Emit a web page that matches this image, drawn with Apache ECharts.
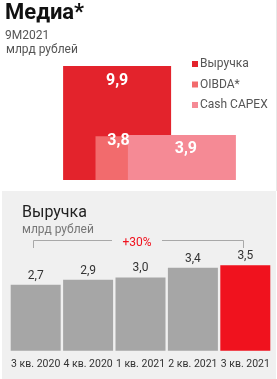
<!DOCTYPE html>
<html>
<head>
<meta charset="utf-8">
<script src="https://cdn.jsdelivr.net/npm/echarts@6/dist/echarts.min.js"></script>
<style>
  html, body { margin: 0; padding: 0; background: #fff; }
  #chart { width: 277px; height: 379px; }
</style>
</head>
<body>
<div id="chart"></div>
<script>
// 9M2021, млрд рублей
var summaryNames = ["Выручка", "OIBDA*", "Cash CAPEX"];
var summaryValues = [9.9, 3.8, 3.9];
var summaryColors = ["#e3232c", "#f26b6d", "#f58a95"];

// квартальная выручка
var quarters = ["3 кв. 2020", "4 кв. 2020", "1 кв. 2021", "2 кв. 2021", "3 кв. 2021"];
var revenue = [2.7, 2.9, 3.0, 3.4, 3.5];
var growthText = "+30%";

var fontFamily = "Roboto, 'Noto Sans', sans-serif";

function comma(v) {
  return Number(v).toFixed(1).replace(".", ",");
}

// подписи внутри прямоугольников
var summaryLabels = [
  { position: "insideTop", distance: 7, offset: [0, 0] },
  { position: "insideTop", distance: 0, offset: [-31, -3] },
  { position: "insideTop", distance: 6, offset: [4, 0] },
];

var summarySeries = summaryNames.map(function (name, i) {
  return {
    name: name,
    type: "bar",
    xAxisIndex: 0,
    yAxisIndex: 0,
    barWidth: 108,
    barGap: "-70%",
    silent: true,
    itemStyle: { color: summaryColors[i] },
    label: {
      show: true,
      position: summaryLabels[i].position,
      distance: summaryLabels[i].distance,
      offset: summaryLabels[i].offset,
      color: "#fff",
      fontSize: 16,
      fontWeight: "bold",
      fontFamily: fontFamily,
      formatter: function (p) { return comma(p.value); },
    },
    data: [summaryValues[i]],
  };
});

var chart = echarts.init(document.getElementById("chart"), null, { renderer: "canvas" });

var options = {
  animation: false,
  backgroundColor: "#ffffff",
  textStyle: { fontFamily: fontFamily },
  graphic: [
    // серая подложка нижнего блока
    { type: "rect", z: -10, shape: { x: 2, y: 191, width: 274, height: 188 }, style: { fill: "#f0f0f0" } },
    { type: "line", z: -10, shape: { x1: 276.5, y1: 0, x2: 276.5, y2: 191 }, style: { stroke: "#e8e8e8", lineWidth: 1 } },
    // заголовки
    { type: "text", left: 5, top: 2, style: { text: "Медиа*", fill: "#111", font: "bold 22px " + fontFamily } },
    { type: "text", left: 5, top: 30, style: { text: "9M2021", fill: "#555", font: "12px " + fontFamily } },
    { type: "text", left: 6, top: 44, style: { text: "млрд рублей", fill: "#555", font: "12px " + fontFamily } },
    { type: "text", left: 22, top: 205, style: { text: "Выручка", fill: "#222", font: "16px " + fontFamily } },
    { type: "text", left: 22, top: 224, style: { text: "млрд рублей", fill: "#777", font: "12px " + fontFamily } },
    // скобка +30%
    { type: "polyline", shape: { points: [[33.5, 248], [33.5, 240.5], [112, 240.5]] }, style: { stroke: "#a8a8a8", lineWidth: 1, fill: null } },
    { type: "polyline", shape: { points: [[162, 240.5], [243.5, 240.5], [243.5, 248]] }, style: { stroke: "#a8a8a8", lineWidth: 1, fill: null } },
    { type: "text", x: 137, y: 242.5, style: { text: growthText, fill: "#f0121e", font: "12px " + fontFamily, textAlign: "center", textVerticalAlign: "middle" } },
  ],
  legend: {
    orient: "vertical",
    left: 192,
    top: 57,
    padding: 0,
    itemWidth: 6,
    itemHeight: 6,
    itemGap: 6.5,
    icon: "rect",
    selectedMode: false,
    textStyle: { color: "#555", fontSize: 12, lineHeight: 14, fontFamily: fontFamily, padding: [0, 0, 0, -3] },
    data: summaryNames,
  },
  grid: [
    { left: 63, top: 64.85, width: 173, height: 115.15 },
    { left: 9.5, top: 253, width: 262, height: 97.7 },
  ],
  xAxis: [
    { gridIndex: 0, type: "category", data: [""], show: false },
    {
      gridIndex: 1,
      type: "category",
      data: quarters,
      axisLine: { show: false },
      axisTick: { show: false },
      axisLabel: { color: "#333", fontSize: 10.5, margin: 8, interval: 0, fontFamily: fontFamily },
    },
  ],
  yAxis: [
    { gridIndex: 0, type: "value", min: 0, max: 10, show: false },
    { gridIndex: 1, type: "value", min: 0, max: 4, show: false },
  ],
  series: summarySeries.concat([
    {
      name: "revenue",
      type: "bar",
      xAxisIndex: 1,
      yAxisIndex: 1,
      barCategoryGap: "4.6%",
      silent: true,
      itemStyle: {
        color: function (p) { return p.dataIndex === revenue.length - 1 ? "#f0121e" : "#a6a6a6"; },
      },
      label: {
        show: true,
        position: "top",
        distance: 3,
        color: "#333",
        fontSize: 12,
        fontFamily: fontFamily,
        formatter: function (p) { return comma(p.value); },
      },
      data: revenue,
    },
  ]),
};

chart.setOption(options);
</script>
</body>
</html>
